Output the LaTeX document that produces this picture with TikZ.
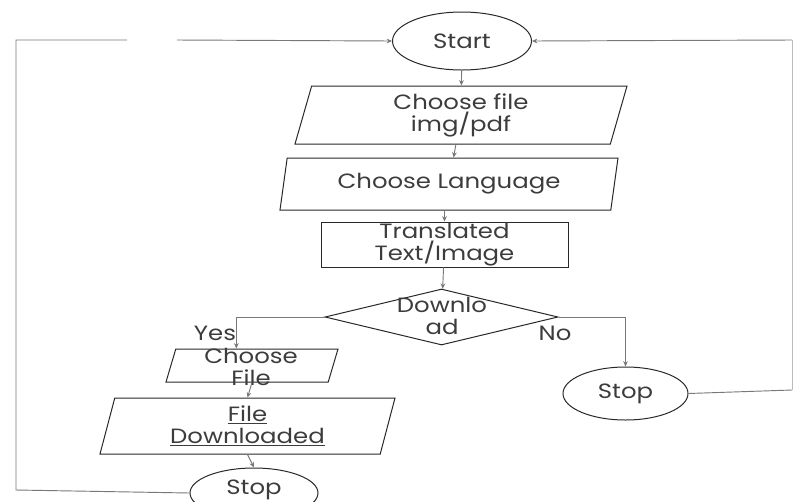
\documentclass[tikz,border=0pt]{standalone}
\usepackage{fontspec}
\setmainfont{Poppins}[FakeStretch=1.18]
\usepackage{tikz}
\usetikzlibrary{arrows.meta, positioning, shapes.geometric}
\usepackage{xcolor}
\definecolor{inkline}{RGB}{40,40,40}
\definecolor{wire}{RGB}{120,120,120}
\definecolor{txt}{RGB}{60,60,60}

\begin{document}
\begin{tikzpicture}[x=0.75pt, y=-0.75pt,
    every node/.style={text=txt, font=\fontsize{15.5}{16.5}\selectfont, align=center, inner sep=0pt},
    terminal/.style={draw=inkline, line width=0.75pt, ellipse},
    io/.style={draw=inkline, line width=0.75pt, trapezium, trapezium stretches body,
      trapezium left angle=#1, trapezium right angle=180-#1},
    process/.style={draw=inkline, line width=0.7pt, rectangle},
    decision/.style={draw=inkline, line width=0.75pt, diamond},
    flow/.style={draw=wire, line width=0.7pt, -{Stealth[length=4pt,width=3.5pt]}},
    wireonly/.style={draw=wire, line width=0.7pt}]
  \useasboundingbox (0,0) rectangle (794,501);
  \clip (0,0) rectangle (794,501);

  % main column
  \node[terminal, minimum width=139*0.75pt, minimum height=58*0.75pt] (start) at (462,41) {Start};
  \node[io=69, minimum width=332*0.75pt, minimum height=58*0.75pt] (pick) at (461,115) {Choose file\\img/pdf};
  \node[io=71, minimum width=338*0.75pt, minimum height=52*0.75pt] (lang) at (449,184) {Choose Language};
  \node[process, minimum width=247*0.75pt, minimum height=45*0.75pt] (trans) at (444.5,244.5) {Translated\\Text/Image};
  \node[decision, minimum width=233*0.75pt, minimum height=56*0.75pt] (dl) at (441.5,317) {};
  \node (dltext) at (442,316) {Downlo\\ad};

  % yes branch
  \node[io=73, minimum width=172*0.75pt, minimum height=33*0.75pt] (again) at (252,365.5) {\rule{0pt}{24pt}};
  \node (againtext) at (251,367) {Choose\\File};
  \node[io=70, minimum width=295*0.75pt, minimum height=56*0.75pt] (saved) at (247.5,426) {\underline{File}\\\underline{Downloaded}};
  \node[terminal, minimum width=128*0.75pt, minimum height=50*0.75pt] (stopyes) at (254,493) {};
  \node (stopyestext) at (254,490) {Stop};
  \node (yes) at (215,333) {Yes};

  % no branch
  \node[terminal, minimum width=125*0.75pt, minimum height=53*0.75pt] (stopno) at (625.5,393.5) {Stop};
  \node (no) at (555,333) {No};

  \draw[flow] (start) -- (pick);
  \draw[flow] (pick) -- (lang);
  \draw[flow] (lang.south -| trans.north) -- (trans);
  \draw[flow] (trans) -- (dl);
  \draw[flow] (dl.west) -| (again.north -| yes.east);
  \draw[flow] (dl.east) -| (stopno.north);
  \draw[flow] (again.south) -- (saved.north);
  \draw[flow] (saved.south) -- (stopyes.north);

  % loops back to the start
  \coordinate (gapl) at (127,40);
  \coordinate (gapr) at (177,40);
  \draw[wireonly] (stopyes.west) -- (16,490) -- (16,40) -- (gapl);
  \draw[flow] (gapr) -- (start.west);
  \draw[wireonly] (stopno.east) -- (792,390);
  \draw[draw=wire!50, line width=0.5pt] (792,390) -- (792,40);
  \draw[flow] (792,40) -- (start.east);
\end{tikzpicture}
\end{document}
